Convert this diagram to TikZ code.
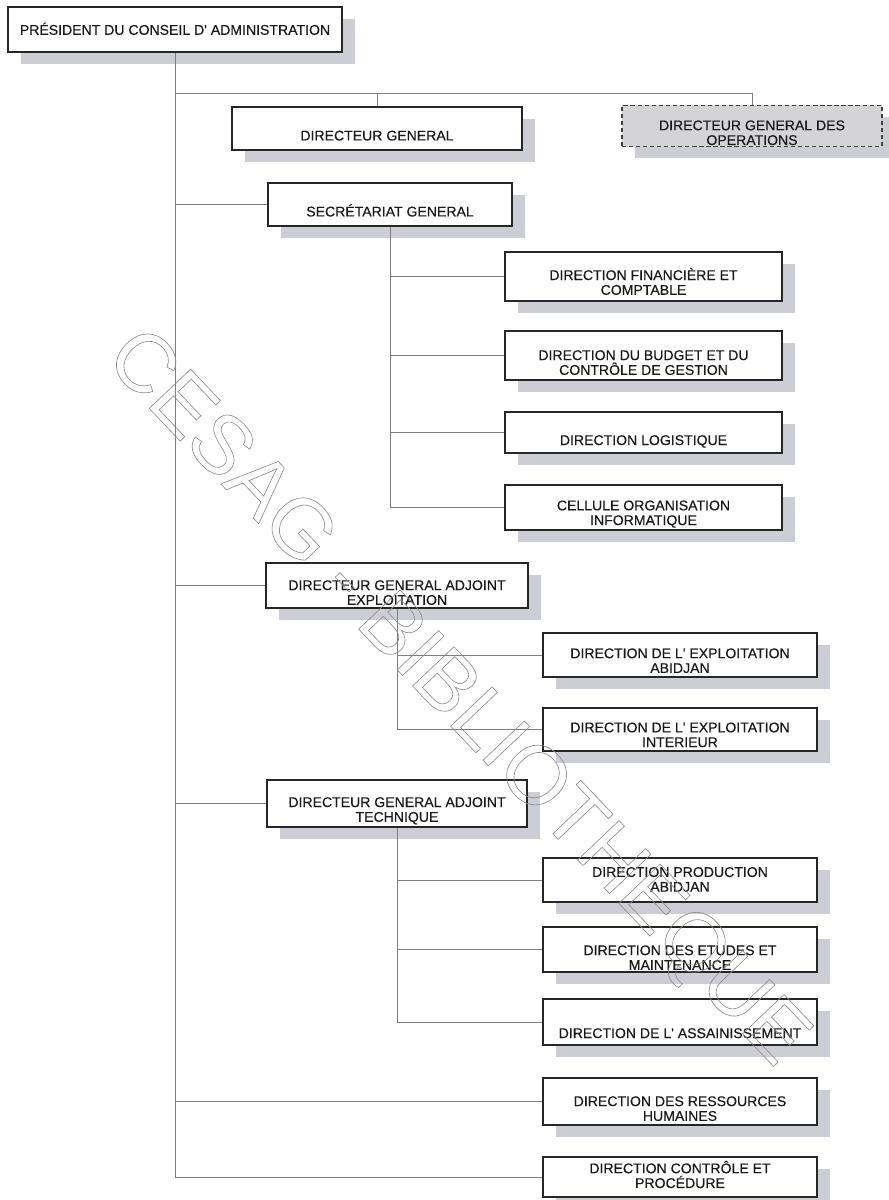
\documentclass[tikz,border=0pt]{standalone}
\usepackage{fontspec}
\setmainfont{Liberation Sans}
\newfontfamily\boitefont{Liberation Sans}[FakeBold=0.35]
\usetikzlibrary{shadows}
\usetikzlibrary{positioning}
\definecolor{ombre}{RGB}{204,205,213}
\definecolor{trait}{RGB}{125,125,130}
\definecolor{fondgris}{RGB}{212,212,214}
\tikzset{
  poste/.style={draw=black!85, line width=1.7pt, fill=white, inner sep=0pt,
    align=center, font=\boitefont\fontsize{10}{10.5}\selectfont, text=black!90,
    text depth=0pt,
    drop shadow={shadow xshift=9pt, shadow yshift=-8.5pt, fill=ombre, opacity=1}},
  posteop/.style={poste, draw=black!75, line width=1.3pt, densely dashed, fill=fondgris},
  haut/.style={text height=#1},
  lien/.style={draw=trait, line width=0.6pt},
}

\begin{document}
\begin{tikzpicture}[x=0.025cm, y=-0.025cm]
  \path[use as bounding box, fill=white] (0,0) rectangle (888,1200);

  % direction generale
  \node[poste, haut=7.5pt, minimum width=8.35cm, minimum height=1.125cm] (pca) at (175,29.5) {PRÉSIDENT DU CONSEIL D' ADMINISTRATION};
  \node[poste, haut=17pt, minimum width=7.25cm, minimum height=1.075cm] (dg) at (377,128.5) {DIRECTEUR GENERAL};
  \node[posteop, haut=27pt, minimum width=6.5cm, minimum height=1.025cm] (dgo) at (752,126) {DIRECTEUR GENERAL DES\\OPERATIONS};

  % secretariat
  \node[poste, haut=17pt, minimum width=6.1cm, minimum height=1.075cm] (sg) at (390,204.5) {SECRÉTARIAT GENERAL};
  \node[poste, haut=26pt, minimum width=6.925cm, minimum height=1.225cm] (dfc) at (643.5,276.5) {DIRECTION FINANCIÈRE ET\\COMPTABLE};
  \node[poste, haut=27.5pt, minimum width=6.925cm, minimum height=1.225cm] (dbcg) at (643.5,355.5) {DIRECTION DU BUDGET ET DU\\CONTRÔLE DE GESTION};
  \node[poste, haut=17.8pt, minimum width=6.925cm, minimum height=1.025cm] (dl) at (643.5,432.5) {DIRECTION LOGISTIQUE};
  \node[poste, haut=25pt, minimum width=6.925cm, minimum height=1.125cm] (coi) at (643.5,507.5) {CELLULE ORGANISATION\\INFORMATIQUE};

  % exploitation
  \node[poste, haut=27.5pt, minimum width=6.55cm, minimum height=1.125cm] (dgae) at (397,585.5) {DIRECTEUR GENERAL ADJOINT\\EXPLOITATION};
  \node[poste, haut=25.5pt, minimum width=6.85cm, minimum height=1.1cm] (dea) at (680,655) {DIRECTION DE L' EXPLOITATION\\ABIDJAN};
  \node[poste, haut=25pt, minimum width=6.85cm, minimum height=1.075cm] (dei) at (680,729.5) {DIRECTION DE L' EXPLOITATION\\INTERIEUR};

  % technique
  \node[poste, haut=26pt, minimum width=6.5cm, minimum height=1.175cm] (dgat) at (397,803.5) {DIRECTEUR GENERAL ADJOINT\\TECHNIQUE};
  \node[poste, haut=16.6pt, minimum width=6.85cm, minimum height=1.1cm] (dpa) at (680,880) {DIRECTION PRODUCTION\\ABIDJAN};
  \node[poste, haut=29pt, minimum width=6.85cm, minimum height=1.125cm] (dem) at (680,949.5) {DIRECTION DES ETUDES ET\\MAINTENANCE};
  \node[poste, haut=22.8pt, minimum width=6.85cm, minimum height=1.15cm] (da) at (680,1022) {DIRECTION DE L' ASSAINISSEMENT};

  \node[poste, haut=27.5pt, minimum width=6.85cm, minimum height=1.175cm] (drh) at (680,1101.5) {DIRECTION DES RESSOURCES\\HUMAINES};
  \node[poste, haut=15.6pt, minimum width=6.85cm, minimum height=1.0cm] (dcp) at (680,1177) {DIRECTION CONTRÔLE ET\\PROCÉDURE};

  % liaisons
  \coordinate (bras) at (176,93);
  \draw[lien] (pca.south) -- (pca.south |- dcp.west);
  \draw[lien] (bras) -| (dg.north);
  \draw[lien] (bras) -| (dgo.north);
  \foreach \n in {sg,dgae,dgat,drh,dcp}
    \draw[lien] (pca.south |- \n.west) -- (\n.west);
  \draw[lien] (sg.south) -- (sg.south |- coi.west);
  \foreach \n in {dfc,dbcg,dl,coi}
    \draw[lien] (sg.south |- \n.west) -- (\n.west);
  \draw[lien] (dgae.south) -- (dgae.south |- dei.west);
  \foreach \n in {dea,dei}
    \draw[lien] (dgae.south |- \n.west) -- (\n.west);
  \draw[lien] (dgat.south) -- (dgat.south |- da.west);
  \foreach \n in {dpa,dem,da}
    \draw[lien] (dgat.south |- \n.west) -- (\n.west);

  % filigrane
  \node[rotate=-46.5, font=\fontsize{59}{59}\selectfont, text=black!45] (filigrane) at (455,700)
    {\special{pdf:literal direct 1 Tr 0.45 w}CESAG - BIBLIOTHEQUE\special{pdf:literal direct 0 Tr}};
\end{tikzpicture}
\end{document}
